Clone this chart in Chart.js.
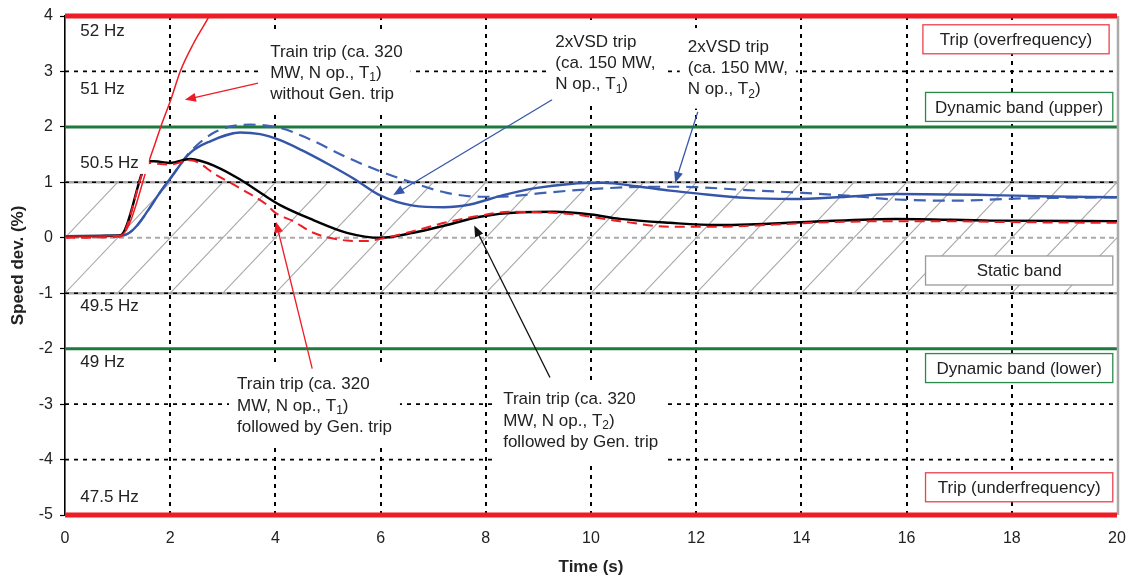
<!DOCTYPE html>
<html>
<head>
<meta charset="utf-8">
<script src="https://cdn.jsdelivr.net/npm/chart.js@4.4.1/dist/chart.umd.min.js"></script>
<style>
  html, body { margin: 0; padding: 0; background: #fff; }
  #wrap { width: 1126px; height: 578px; }
</style>
</head>
<body>
<div id="wrap"><canvas id="speedChart" width="1126" height="578"></canvas></div>
<script>
// series (time in s, speed deviation in %)
const timeNoGen = [0, 1.05, 1.65, 1.82, 2.03, 2.19, 2.44, 2.72, 2.85];
const speedNoGen = [0.03, 0.04, 1.53, 2.0, 2.54, 3.0, 3.5, 3.96, 4.2];

const timeT1Gen = [0, 1.05, 1.6, 1.7, 2.0, 2.38, 2.88, 3.39, 3.83, 4.0, 4.34, 4.72, 5.36, 5.7, 6.0, 6.62, 7.26, 7.89, 8.5, 9.0, 9.6, 10.55, 11.5, 12.5, 13.5, 14.5, 15.8, 16.5, 18.2, 20];
const speedT1Gen = [0.0, 0.02, 1.35, 1.34, 1.32, 1.40, 1.13, 0.86, 0.6, 0.45, 0.3, 0.09, -0.05, -0.06, -0.02, 0.12, 0.28, 0.40, 0.47, 0.46, 0.43, 0.3, 0.2, 0.2, 0.24, 0.28, 0.3, 0.3, 0.28, 0.27];

const timeT2Gen = [0, 1.05, 1.6, 1.7, 2.0, 2.38, 2.88, 3.33, 3.83, 4.09, 4.72, 5.36, 6.0, 6.62, 7.26, 7.89, 8.65, 9.3, 10.0, 10.55, 11.5, 12.4, 13.0, 14.2, 15.8, 17.6, 20];
const speedT2Gen = [0.03, 0.04, 1.38, 1.38, 1.35, 1.42, 1.28, 1.05, 0.74, 0.59, 0.32, 0.09, 0.0, 0.09, 0.23, 0.38, 0.46, 0.47, 0.42, 0.34, 0.27, 0.23, 0.24, 0.29, 0.34, 0.31, 0.3];

const timeVsdT1 = [0, 1.08, 1.93, 2.38, 2.76, 3.33, 3.71, 4.09, 4.5, 5.0, 5.5, 6.0, 6.62, 7.2, 7.7, 8.33, 8.97, 9.6, 10.23, 10.87, 11.5, 12.0, 12.96, 13.8, 14.86, 15.8, 17.6, 18.5, 20];
const speedVsdT1 = [0.03, 0.04, 0.98, 1.53, 1.74, 1.9, 1.87, 1.76, 1.58, 1.33, 1.06, 0.76, 0.58, 0.55, 0.6, 0.77, 0.9, 0.97, 0.99, 0.93, 0.85, 0.8, 0.72, 0.7, 0.74, 0.79, 0.77, 0.75, 0.73];

const timeVsdT2 = [0, 1.08, 1.93, 2.38, 2.88, 3.52, 4.09, 4.6, 5.36, 5.99, 6.62, 7.26, 7.89, 8.5, 9.0, 9.6, 10.23, 11.0, 11.7, 12.96, 14.03, 14.86, 15.8, 16.95, 18.2, 20];
const speedVsdT2 = [0.03, 0.04, 0.98, 1.55, 1.92, 2.04, 1.98, 1.8, 1.45, 1.2, 0.99, 0.81, 0.74, 0.75, 0.8, 0.85, 0.89, 0.92, 0.92, 0.86, 0.81, 0.76, 0.69, 0.67, 0.71, 0.73];

const xTickValues = [0, 2, 4, 6, 8, 10, 12, 14, 16, 18, 20];
const yTickValues = [-5, -4, -3, -2, -1, 0, 1, 2, 3, 4];
const tripLevels = [4, -5];
const dynamicLevels = [2, -2];
const staticLevels = [1, -1];
const dottedLevels = [3, -3, -4];
const freqLabels = ['52 Hz', '51 Hz', '50.5 Hz', '49.5 Hz', '49 Hz', '47.5 Hz'];
const freqLabelLevels = [3.73, 2.67, 1.35, -1.24, -2.25, -4.68];

const FONT = '"Liberation Sans", Arial, sans-serif';
const TXT = '#222';

function toPoints(xs, ys) {
    return xs.map((x, i) => ({ x: x, y: ys[i] }));
}

// annotation blocks (anchor in data units)
const notes = [
    { x: 3.9, y: 3.35, lines: ['Train trip (ca. 320', 'MW, N op., T_{1})', 'without Gen. trip'] },
    { x: 9.32, y: 3.53, lines: ['2xVSD trip', '(ca. 150 MW,', 'N op., T_{1})'] },
    { x: 11.84, y: 3.44, lines: ['2xVSD trip', '(ca. 150 MW,', 'N op., T_{2})'] },
    { x: 3.27, y: -2.65, lines: ['Train trip (ca. 320', 'MW, N op., T_{1})', 'followed by Gen. trip'] },
    { x: 8.33, y: -2.92, lines: ['Train trip (ca. 320', 'MW, N op., T_{2})', 'followed by Gen. trip'] }
];

const arrows = [
    { from: [3.67, 2.79], to: [2.28, 2.49], color: '#ee1c25' },
    { from: [4.70, -2.36], to: [4.01, 0.29], color: '#ee1c25' },
    { from: [9.22, -2.52], to: [7.78, 0.22], color: '#111' },
    { from: [9.26, 2.49], to: [6.24, 0.77], color: '#3556a8' },
    { from: [12.03, 2.27], to: [11.6, 0.99], color: '#3556a8' }
];

const bandBoxes = [
    { text: 'Trip (overfrequency)', x0: 16.31, x1: 19.85, y: 3.58, color: '#f0404c' },
    { text: 'Dynamic band (upper)', x0: 16.36, x1: 19.92, y: 2.36, color: '#2a8a4a' },
    { text: 'Static band', x0: 16.36, x1: 19.92, y: -0.59, color: '#999' },
    { text: 'Dynamic band (lower)', x0: 16.36, x1: 19.92, y: -2.35, color: '#2a8a4a' },
    { text: 'Trip (underfrequency)', x0: 16.36, x1: 19.92, y: -4.5, color: '#f0404c' }
];

function richText(ctx, str, x, y, size, measureOnly) {
    const parts = str.split(/_\{(.*?)\}/);
    let cx = x;
    parts.forEach((p, i) => {
        if (!p) return;
        const sub = i % 2 === 1;
        ctx.font = (sub ? Math.round(size * 0.68) : size) + 'px ' + FONT;
        if (!measureOnly) ctx.fillText(p, cx, sub ? y + size * 0.28 : y);
        cx += ctx.measureText(p).width;
    });
    return cx - x;
}

function hLine(ctx, area, yPix, color, width, dash) {
    ctx.save();
    ctx.strokeStyle = color;
    ctx.lineWidth = width;
    ctx.setLineDash(dash || []);
    ctx.beginPath();
    ctx.moveTo(area.left, yPix);
    ctx.lineTo(area.right, yPix);
    ctx.stroke();
    ctx.restore();
}

const backgroundPlugin = {
    id: 'bands',
    beforeDatasetsDraw(chart) {
        const { ctx, chartArea: a, scales: { x, y } } = chart;

        // hatched static band
        ctx.save();
        const yTop = y.getPixelForValue(staticLevels[0]);
        const yBot = y.getPixelForValue(staticLevels[1]);
        ctx.beginPath();
        ctx.rect(a.left, yTop, a.right - a.left, yBot - yTop);
        ctx.clip();
        ctx.strokeStyle = '#a8a8a8';
        ctx.lineWidth = 1.1;
        for (let k = -2; k <= 22; k++) {
            ctx.beginPath();
            ctx.moveTo(x.getPixelForValue(k - 1), yBot);
            ctx.lineTo(x.getPixelForValue(k + 1), yTop);
            ctx.stroke();
        }
        ctx.restore();

        hLine(ctx, a, y.getPixelForValue(0), '#aaa', 2, [5, 4]);
        dottedLevels.forEach(v => hLine(ctx, a, y.getPixelForValue(v), '#000', 1.8, [4, 5]));
        staticLevels.forEach(v => {
            hLine(ctx, a, y.getPixelForValue(v), '#a6a6a6', 2.5);
            hLine(ctx, a, y.getPixelForValue(v), '#000', 1.5, [4, 5]);
        });
        dynamicLevels.forEach(v => hLine(ctx, a, y.getPixelForValue(v), '#1c7a3c', 3));

        // right frame
        ctx.save();
        ctx.strokeStyle = '#aaa';
        ctx.lineWidth = 2.5;
        ctx.beginPath();
        ctx.moveTo(a.right + 1, a.top);
        ctx.lineTo(a.right + 1, a.bottom);
        ctx.stroke();
        ctx.restore();

        tripLevels.forEach(v => hLine(ctx, a, y.getPixelForValue(v), '#ee1c25', 5));
    },
    afterDatasetsDraw(chart) {
        const { ctx, chartArea: a, scales: { x, y } } = chart;
        const size = 17;
        const lh = 21.3;
        ctx.save();
        ctx.textBaseline = 'middle';

        // frequency labels
        freqLabels.forEach((t, i) => {
            const px = x.getPixelForValue(0.29);
            const py = y.getPixelForValue(freqLabelLevels[i]);
            ctx.font = size + 'px ' + FONT;
            const w = ctx.measureText(t).width;
            ctx.fillStyle = '#fff';
            ctx.fillRect(px - 4, py - 11, w + 14, 22);
            ctx.fillStyle = TXT;
            ctx.fillText(t, px, py);
        });

        // annotation blocks
        notes.forEach(n => {
            const px = x.getPixelForValue(n.x);
            const py = y.getPixelForValue(n.y);
            let w = 0;
            n.lines.forEach(l => { w = Math.max(w, richText(ctx, l, 0, 0, size, true)); });
            ctx.fillStyle = '#fff';
            ctx.fillRect(px - 8, py - 11 - 8, w + 16, lh * (n.lines.length - 1) + 22 + 16);
            ctx.fillStyle = TXT;
            n.lines.forEach((l, i) => richText(ctx, l, px, py + i * lh, size));
        });

        // band boxes
        bandBoxes.forEach(b => {
            const x0 = x.getPixelForValue(b.x0);
            const x1 = x.getPixelForValue(b.x1);
            const cy = y.getPixelForValue(b.y);
            ctx.fillStyle = '#fff';
            ctx.fillRect(x0, cy - 14.5, x1 - x0, 29);
            ctx.strokeStyle = b.color;
            ctx.lineWidth = 1.3;
            ctx.strokeRect(x0, cy - 14.5, x1 - x0, 29);
            ctx.fillStyle = TXT;
            ctx.font = size + 'px ' + FONT;
            ctx.textAlign = 'center';
            ctx.fillText(b.text, (x0 + x1) / 2, cy + 1);
            ctx.textAlign = 'left';
        });

        // arrows
        arrows.forEach(ar => {
            const x0 = x.getPixelForValue(ar.from[0]), y0 = y.getPixelForValue(ar.from[1]);
            const x1 = x.getPixelForValue(ar.to[0]), y1 = y.getPixelForValue(ar.to[1]);
            const ang = Math.atan2(y1 - y0, x1 - x0);
            const hl = 11, hw = 4.5;
            ctx.strokeStyle = ar.color;
            ctx.fillStyle = ar.color;
            ctx.lineWidth = 1.3;
            ctx.beginPath();
            ctx.moveTo(x0, y0);
            ctx.lineTo(x1 - Math.cos(ang) * hl * 0.8, y1 - Math.sin(ang) * hl * 0.8);
            ctx.stroke();
            ctx.beginPath();
            ctx.moveTo(x1, y1);
            ctx.lineTo(x1 - Math.cos(ang) * hl - Math.sin(ang) * hw, y1 - Math.sin(ang) * hl + Math.cos(ang) * hw);
            ctx.lineTo(x1 - Math.cos(ang) * hl + Math.sin(ang) * hw, y1 - Math.sin(ang) * hl - Math.cos(ang) * hw);
            ctx.closePath();
            ctx.fill();
        });
        ctx.restore();
    }
};

const lineBase = {
    showLine: true,
    pointRadius: 0,
    fill: false,
    cubicInterpolationMode: 'monotone'
};

const ctx = document.getElementById('speedChart').getContext('2d');
const speedChart = new Chart(ctx, {
    type: 'scatter',
    data: {
        datasets: [
            Object.assign({ label: 'Train trip T1 without Gen. trip', data: toPoints(timeNoGen, speedNoGen), borderColor: '#ee1c25', borderWidth: 1.5 }, lineBase),
            Object.assign({ label: 'Train trip T1 followed by Gen. trip', data: toPoints(timeT1Gen, speedT1Gen), borderColor: '#ee1c25', borderWidth: 2, borderDash: [10, 6] }, lineBase),
            Object.assign({ label: 'Train trip T2 followed by Gen. trip', data: toPoints(timeT2Gen, speedT2Gen), borderColor: '#000', borderWidth: 2.4 }, lineBase),
            Object.assign({ label: '2xVSD trip T1', data: toPoints(timeVsdT1, speedVsdT1), borderColor: '#3556a8', borderWidth: 2.4 }, lineBase),
            Object.assign({ label: '2xVSD trip T2', data: toPoints(timeVsdT2, speedVsdT2), borderColor: '#3f62b3', borderWidth: 2.2, borderDash: [12, 7] }, lineBase)
        ]
    },
    options: {
        responsive: false,
        devicePixelRatio: 1,
        animation: false,
        layout: { padding: { top: 16, right: 9, left: 0, bottom: 0 } },
        plugins: {
            legend: { display: false },
            tooltip: { enabled: false }
        },
        scales: {
            x: {
                type: 'linear',
                min: 0,
                max: 20,
                afterBuildTicks: s => { s.ticks = xTickValues.map(v => ({ value: v })); },
                afterFit: s => { s.height = 63; s.paddingLeft = 0; s.paddingRight = 0; },
                ticks: { padding: 14, color: TXT, font: { family: FONT, size: 16 } },
                grid: {
                    drawTicks: false,
                    color: c => (c.tick && (c.tick.value === 0 || c.tick.value === 20)) ? 'rgba(0,0,0,0)' : '#000',
                    lineWidth: 2
                },
                border: { display: false, dash: [4, 5] },
                title: { display: true, text: 'Time (s)', color: TXT, font: { family: FONT, size: 17, weight: 'bold' }, padding: { top: 0, bottom: 0 } }
            },
            y: {
                type: 'linear',
                min: -5,
                max: 4,
                afterBuildTicks: s => { s.ticks = yTickValues.map(v => ({ value: v })); },
                afterFit: s => { s.width = 65; s.paddingTop = 0; s.paddingBottom = 0; },
                ticks: { padding: 7, color: TXT, font: { family: FONT, size: 16 } },
                grid: { drawOnChartArea: false, drawTicks: true, tickLength: 5, tickColor: '#000', tickWidth: 1.2 },
                border: { display: true, color: '#000', width: 1.6 },
                title: { display: true, text: 'Speed dev. (%)', color: TXT, font: { family: FONT, size: 17, weight: 'bold' }, padding: { top: 8, bottom: 0 } }
            }
        }
    },
    plugins: [backgroundPlugin]
});
</script>
</body>
</html>
